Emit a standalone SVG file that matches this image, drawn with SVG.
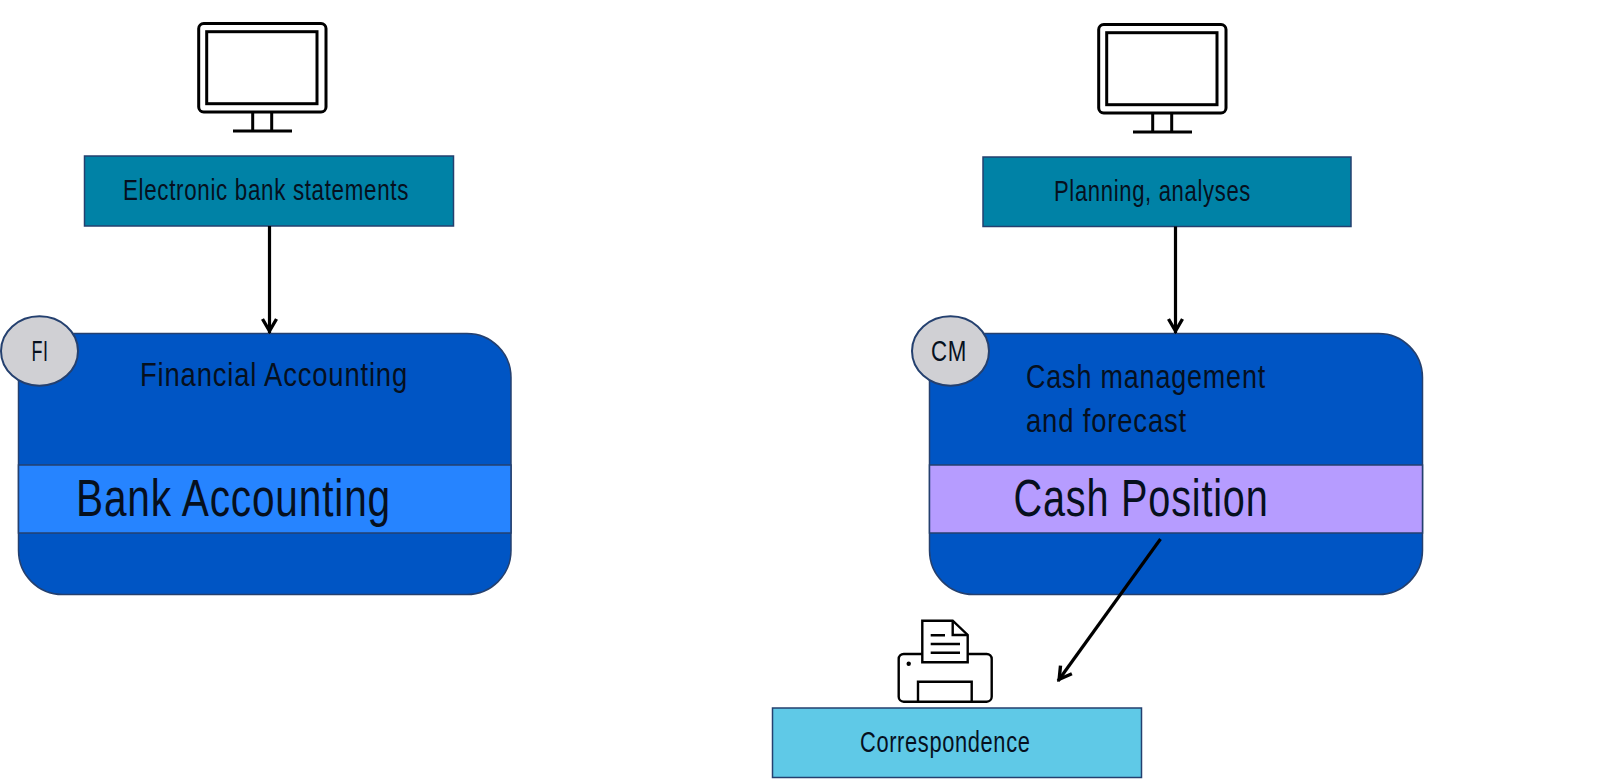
<svg xmlns="http://www.w3.org/2000/svg" width="1600" height="779" viewBox="0 0 1600 779">
<style>
text{font-family:"Liberation Sans Narrow","Liberation Sans",Arial,sans-serif;fill:#06101e;letter-spacing:.03em}
.box{stroke:#24406f;stroke-width:1.5}
.mod{fill:#0055c4;stroke:#24406f;stroke-width:1.5}
.badge{fill:#d0d0d4;stroke:#24406f;stroke-width:2}
.icon{fill:none;stroke:#000;stroke-width:3}
.thin{fill:none;stroke:#000;stroke-width:2.4}
.conn{fill:none;stroke:#000;stroke-width:3.2;marker-end:url(#arrow)}
.s29{font-size:29px}.s34{font-size:34px}.s51{font-size:51px;letter-spacing:.02em}
</style>
<defs>
<marker id="arrow" markerUnits="userSpaceOnUse" markerWidth="22" markerHeight="22" refX="17.5" refY="11" orient="auto">
<path d="M3.5 4L15.5 11L3.5 18" fill="none" stroke="#000" stroke-width="3.4"/>
</marker>
<g id="monitor">
<rect class="icon" x="198.7" y="23.5" width="127.3" height="88.5" rx="5"/>
<rect class="icon" x="206.7" y="31.7" width="110.3" height="72"/>
<path class="icon" d="M252.7 112V131M271.7 112V131M233 131H292"/>
</g>
</defs>

<g id="monitor-left"><use href="#monitor"/></g>
<g id="monitor-right"><use href="#monitor" x="900" y="1"/></g>

<g id="electronic-bank-statements">
<rect class="box" x="84.5" y="156" width="369" height="70" fill="#0082a6"/>
<text class="s29" x="123" y="199.5" textLength="286" lengthAdjust="spacingAndGlyphs">Electronic bank statements</text>
</g>

<g id="planning-analyses">
<rect class="box" x="983" y="157" width="368" height="69.5" fill="#0082a6"/>
<text class="s29" x="1054" y="200.5" textLength="197" lengthAdjust="spacingAndGlyphs">Planning, analyses</text>
</g>

<g id="financial-accounting">
<rect class="mod" x="18.5" y="333.5" width="492.5" height="261" rx="44"/>
<rect class="box" x="18.5" y="465" width="492.5" height="68" fill="#2684ff"/>
<text class="s34" x="140" y="386" textLength="268" lengthAdjust="spacingAndGlyphs">Financial Accounting</text>
<text class="s51" x="76" y="516" textLength="315" lengthAdjust="spacingAndGlyphs">Bank Accounting</text>
</g>
<g id="fi-badge">
<ellipse class="badge" cx="39.5" cy="351" rx="38.5" ry="34.7"/>
<text class="s29" x="31.5" y="360.7" textLength="17" lengthAdjust="spacingAndGlyphs">FI</text>
</g>

<g id="cash-management">
<rect class="mod" x="929.5" y="333.5" width="493" height="261" rx="44"/>
<rect class="box" x="929.5" y="465" width="493" height="68" fill="#b69cff"/>
<text class="s34" x="1026" y="388" textLength="240" lengthAdjust="spacingAndGlyphs">Cash management</text>
<text class="s34" x="1026" y="431.7" textLength="161" lengthAdjust="spacingAndGlyphs">and forecast</text>
<text class="s51" x="1013.5" y="515.7" textLength="255" lengthAdjust="spacingAndGlyphs">Cash Position</text>
</g>
<g id="cm-badge">
<ellipse class="badge" cx="950.5" cy="351" rx="38.5" ry="34.7"/>
<text class="s29" x="931" y="360.7" textLength="36" lengthAdjust="spacingAndGlyphs">CM</text>
</g>

<g id="printer">
<rect class="thin" x="898.7" y="654" width="93" height="47.7" rx="5"/>
<path class="thin" d="M918 701.7V681.7H971.7V701.7"/>
<path d="M922.3 662.3V620.7H952.7L967.7 635V662.3Z" fill="#fff" stroke="#000" stroke-width="2.4"/>
<path class="thin" d="M952.7 620.7V635H967.7M930.7 635.3H945M930.7 644H960M930.7 652.7H960"/>
<circle cx="908.7" cy="663.7" r="2.2" fill="#000"/>
</g>

<g id="correspondence">
<rect class="box" x="772.5" y="708" width="369" height="69.5" fill="#5fc9e7"/>
<text class="s29" x="860" y="751.5" textLength="170.5" lengthAdjust="spacingAndGlyphs">Correspondence</text>
</g>

<g id="connectors">
<path class="conn" d="M269.5 226V333"/>
<path class="conn" d="M1175.5 226.5V333"/>
<path class="conn" d="M1160.5 539L1058 681"/>
</g>
</svg>
